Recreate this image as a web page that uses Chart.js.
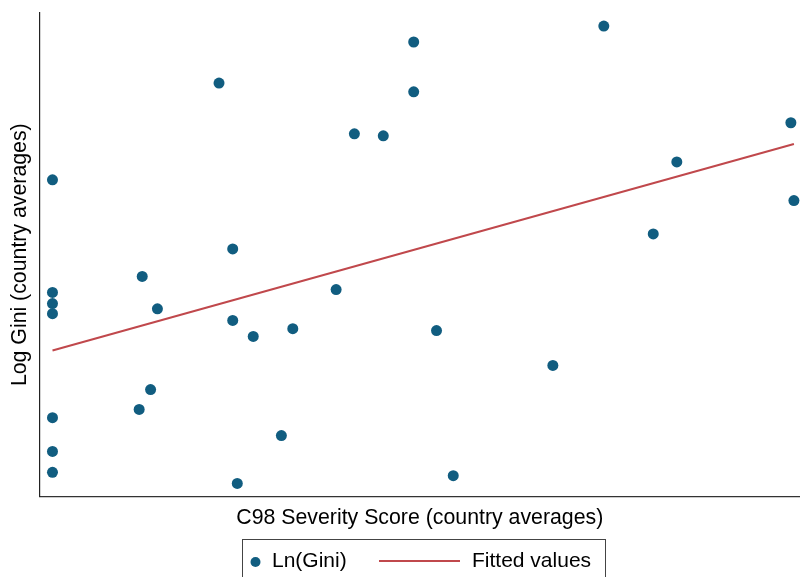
<!DOCTYPE html>
<html>
<head>
<meta charset="utf-8">
<script src="https://cdn.jsdelivr.net/npm/chart.js@4/dist/chart.umd.min.js"></script>
<style>
  html, body { margin: 0; padding: 0; background: #fff; }
  #wrap { width: 800px; height: 577px; position: relative; }
</style>
</head>
<body>
<div id="wrap"><canvas id="c" width="800" height="577"></canvas></div>
<script>
// Country averages: severity score (x) and log Gini (y), on rescaled 0-100 units
const severity = [1.7, 1.7, 1.7, 1.7, 1.7, 1.7, 1.7, 13.1, 13.5, 14.6, 15.5, 23.6, 25.4, 25.4, 26.0, 28.1, 31.8, 33.3, 39.0, 41.4, 45.2, 49.2, 49.2, 52.2, 54.4, 67.5, 74.2, 80.7, 83.8, 98.8, 99.2];
const lnGini   = [65.5, 42.2, 39.9, 37.8, 16.3, 9.3, 5.0, 18.0, 45.5, 22.1, 38.8, 85.5, 51.2, 36.4, 2.7, 33.1, 12.6, 34.7, 42.8, 75.0, 74.6, 94.0, 83.7, 34.3, 4.3, 27.1, 97.3, 54.3, 69.2, 77.3, 61.2];

// Linear fit endpoints
const fitX = [1.7, 99.2];
const fitY = [30.2, 72.9];

const seriesNames = ['Ln(Gini)', 'Fitted values'];
const xTitle = 'C98 Severity Score (country averages)';
const yTitle = 'Log Gini (country averages)';

const dotColor = '#115d80';
const fitColor = '#c0484c';
const fontFamily = '"Liberation Sans", Arial, sans-serif';

const scatterPts = severity.map((x, i) => ({ x: x, y: lnGini[i] }));
const fitPts = fitX.map((x, i) => ({ x: x, y: fitY[i] }));

// Boxed legend underneath the x-axis title
const boxedLegend = {
  id: 'boxedLegend',
  afterDraw(chart) {
    const ctx = chart.ctx;
    ctx.save();
    ctx.strokeStyle = '#444';
    ctx.lineWidth = 1;
    ctx.strokeRect(242.5, 539.5, 363, 50);

    ctx.fillStyle = dotColor;
    ctx.beginPath();
    ctx.arc(255.5, 562, 5, 0, Math.PI * 2);
    ctx.fill();

    ctx.font = '21px ' + fontFamily;
    ctx.fillStyle = '#000';
    ctx.textBaseline = 'middle';
    ctx.textAlign = 'left';
    ctx.fillText(seriesNames[0], 272, 561);

    ctx.strokeStyle = fitColor;
    ctx.lineWidth = 2;
    ctx.beginPath();
    ctx.moveTo(379, 561);
    ctx.lineTo(460, 561);
    ctx.stroke();

    ctx.fillStyle = '#000';
    ctx.fillText(seriesNames[1], 472, 561);
    ctx.restore();
  }
};

new Chart(document.getElementById('c'), {
  type: 'scatter',
  data: {
    datasets: [
      {
        label: seriesNames[0],
        data: scatterPts,
        backgroundColor: dotColor,
        borderWidth: 0,
        pointRadius: 5.5,
        pointHoverRadius: 5.5
      },
      {
        label: seriesNames[1],
        type: 'line',
        data: fitPts,
        borderColor: fitColor,
        borderWidth: 2,
        pointRadius: 0,
        fill: false
      }
    ]
  },
  options: {
    responsive: false,
    animation: false,
    clip: false,
    layout: { autoPadding: false, padding: { top: 13, right: 0, bottom: 46, left: 0 } },
    plugins: {
      legend: { display: false },
      tooltip: { enabled: false }
    },
    scales: {
      x: {
        type: 'linear',
        min: 0, max: 100,
        grid: { display: false, drawTicks: false },
        border: { display: true, color: '#333', width: 1.2 },
        ticks: { display: false },
        title: {
          display: true, text: xTitle, color: '#000',
          font: { family: fontFamily, size: 21.3 },
          padding: { top: 9, bottom: 0 }
        }
      },
      y: {
        type: 'linear',
        min: 0, max: 100,
        grid: { display: false, drawTicks: false },
        border: { display: true, color: '#222', width: 1.2 },
        ticks: { display: false },
        title: {
          display: true, text: yTitle, color: '#000',
          font: { family: fontFamily, size: 21.3 },
          padding: { top: 7, bottom: 7 }
        }
      }
    }
  },
  plugins: [boxedLegend]
});
</script>
</body>
</html>
